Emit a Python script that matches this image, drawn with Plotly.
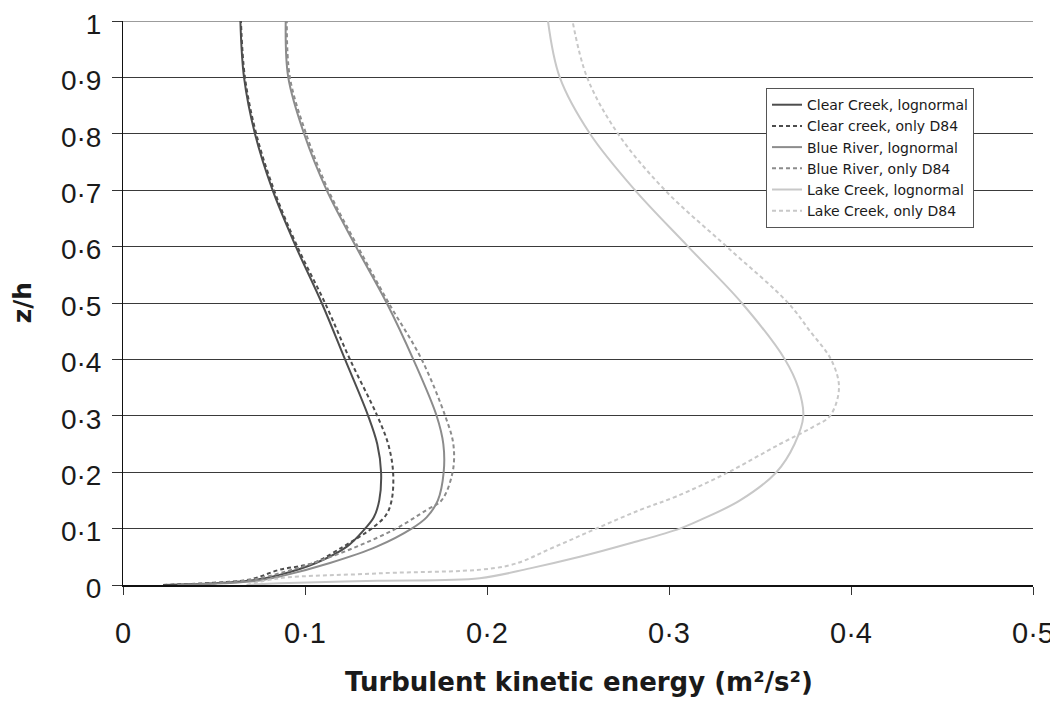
import plotly.graph_objects as go

# ---- data ----
clear_logn_x = [0.022, 0.05, 0.07, 0.086, 0.106, 0.123, 0.133, 0.1378, 0.1408, 0.1418, 0.1397, 0.1347, 0.122, 0.1092, 0.0950, 0.0822, 0.0725, 0.0665, 0.0645]
clear_logn_z = [0.0, 0.003, 0.008, 0.018, 0.039, 0.068, 0.10, 0.12, 0.15, 0.20, 0.25, 0.30, 0.40, 0.50, 0.60, 0.70, 0.80, 0.90, 1.00]

clear_d84_x = [0.022, 0.05, 0.07, 0.086, 0.1046, 0.121, 0.130, 0.1366, 0.1445, 0.1476, 0.1484, 0.1457, 0.1397, 0.1247, 0.111, 0.0958, 0.083, 0.0732, 0.067, 0.0648]
clear_d84_z = [0.0, 0.004, 0.010, 0.027, 0.039, 0.068, 0.0857, 0.10, 0.124, 0.15, 0.20, 0.25, 0.30, 0.40, 0.50, 0.60, 0.70, 0.80, 0.90, 1.00]

blue_logn_x = [0.03, 0.055, 0.075, 0.086, 0.1137, 0.1394, 0.1586, 0.1668, 0.1730, 0.1762, 0.176, 0.1723, 0.1595, 0.1449, 0.1280, 0.1119, 0.0995, 0.0908, 0.0894]
blue_logn_z = [0.0, 0.003, 0.008, 0.0148, 0.039, 0.068, 0.10, 0.12, 0.15, 0.20, 0.25, 0.30, 0.40, 0.50, 0.60, 0.70, 0.80, 0.90, 1.00]

blue_d84_x = [0.03, 0.055, 0.072, 0.086, 0.1046, 0.1284, 0.150, 0.1668, 0.175, 0.1811, 0.1815, 0.177, 0.1641, 0.146, 0.1290, 0.1128, 0.1006, 0.0917, 0.090]
blue_d84_z = [0.0, 0.004, 0.010, 0.0207, 0.039, 0.068, 0.10, 0.133, 0.15, 0.20, 0.25, 0.30, 0.40, 0.50, 0.60, 0.70, 0.80, 0.90, 1.00]

lake_logn_x = [0.068, 0.086, 0.14, 0.196, 0.2236, 0.251, 0.2786, 0.306, 0.317, 0.339, 0.359, 0.369, 0.3738, 0.371, 0.3637, 0.340, 0.3105, 0.2813, 0.2566, 0.240, 0.2335]
lake_logn_z = [0.0, 0.003, 0.0075, 0.012, 0.0295, 0.05, 0.074, 0.10, 0.115, 0.15, 0.20, 0.25, 0.30, 0.35, 0.40, 0.50, 0.60, 0.70, 0.80, 0.90, 1.00]

lake_d84_x = [0.068, 0.086, 0.141, 0.2108, 0.236, 0.260, 0.284, 0.304, 0.3326, 0.361, 0.379, 0.3885, 0.3934, 0.389, 0.3775, 0.3655, 0.3317, 0.2978, 0.272, 0.255, 0.247]
lake_d84_z = [0.0, 0.012, 0.0207, 0.0337, 0.066, 0.10, 0.133, 0.157, 0.20, 0.25, 0.28, 0.30, 0.35, 0.40, 0.45, 0.50, 0.60, 0.70, 0.80, 0.90, 1.00]

series_names = ["Clear Creek, lognormal", "Clear creek, only D84",
                "Blue River, lognormal", "Blue River, only D84",
                "Lake Creek, lognormal", "Lake Creek, only D84"]

x_tickvals = [0, 0.1, 0.2, 0.3, 0.4, 0.5]
x_ticktext = ["0", "0·1", "0·2", "0·3", "0·4", "0·5"]
y_tickvals = [0, 0.1, 0.2, 0.3, 0.4, 0.5, 0.6, 0.7, 0.8, 0.9, 1.0]
y_ticktext = ["0", "0·1", "0·2", "0·3", "0·4", "0·5", "0·6", "0·7", "0·8", "0·9", "1"]

x_title = "<b>Turbulent kinetic energy (m²/s²)</b>"
y_title = "<b>z/h</b>"

# ---- styling ----
colors = ["#4d4d4d", "#4d4d4d", "#8c8c8c", "#8c8c8c", "#c8c8c8", "#c8c8c8"]
dashes = ["solid", "4px,3px", "solid", "4px,3px", "solid", "4px,3px"]
xs = [clear_logn_x, clear_d84_x, blue_logn_x, blue_d84_x, lake_logn_x, lake_d84_x]
zs = [clear_logn_z, clear_d84_z, blue_logn_z, blue_d84_z, lake_logn_z, lake_d84_z]

fig = go.Figure()
for name, x, z, c, d in zip(series_names, xs, zs, colors, dashes):
    fig.add_trace(go.Scatter(x=x, y=z, mode="lines", name=name,
                             line=dict(color=c, width=2, dash=d, shape="spline", smoothing=1.0)))

font_family = "Liberation Sans, Arial, sans-serif"
wide_family = "DejaVu Sans, Liberation Sans, sans-serif"
fig.update_layout(
    width=1058, height=703,
    margin=dict(l=115, r=33, t=13, b=126, autoexpand=False),
    paper_bgcolor="white", plot_bgcolor="white",
    font=dict(family=font_family, color="#1a1a1a"),
    showlegend=True,
    legend=dict(x=0.7066, y=0.881, xanchor="left", yanchor="top",
                bgcolor="white", bordercolor="#555555", borderwidth=1,
                font=dict(size=14, family=wide_family, color="#1a1a1a"),
                tracegroupgap=0, itemwidth=30),
    annotations=[
        dict(text=x_title, xref="paper", yref="paper", x=0.501, y=-0.172,
             xanchor="center", yanchor="middle", showarrow=False,
             font=dict(size=26, family=wide_family, color="#1a1a1a")),
        dict(text=y_title, xref="paper", yref="paper", x=-0.11, y=0.501,
             xanchor="center", yanchor="middle", showarrow=False, textangle=-90,
             font=dict(size=25, family=wide_family, color="#1a1a1a")),
    ],
    shapes=[dict(type="line", xref="paper", x0=0, x1=1, yref="y", y0=1, y1=1,
                 line=dict(color="#3a3a3a", width=1), layer="below")],
)
fig.update_xaxes(range=[0, 0.5], tickvals=x_tickvals, ticktext=x_ticktext,
                 showgrid=False, zeroline=False, automargin=False,
                 showline=True, linecolor="#111111", linewidth=2,
                 ticks="outside", ticklen=8, tickcolor="#333333", tickwidth=1,
                 tickfont=dict(size=29), ticklabelstandoff=13,
                 ticklabeloverflow="allow")
fig.update_yaxes(range=[0, 1], tickvals=y_tickvals, ticktext=y_ticktext,
                 showgrid=True, gridcolor="#3a3a3a", gridwidth=1, zeroline=False,
                 automargin=False,
                 showline=True, linecolor="#111111", linewidth=1,
                 ticks="outside", ticklen=10, tickcolor="#333333", tickwidth=1,
                 tickfont=dict(size=28), ticklabelstandoff=5, ticklabelshift=3,
                 ticklabeloverflow="allow")

fig.write_html("out.html")
